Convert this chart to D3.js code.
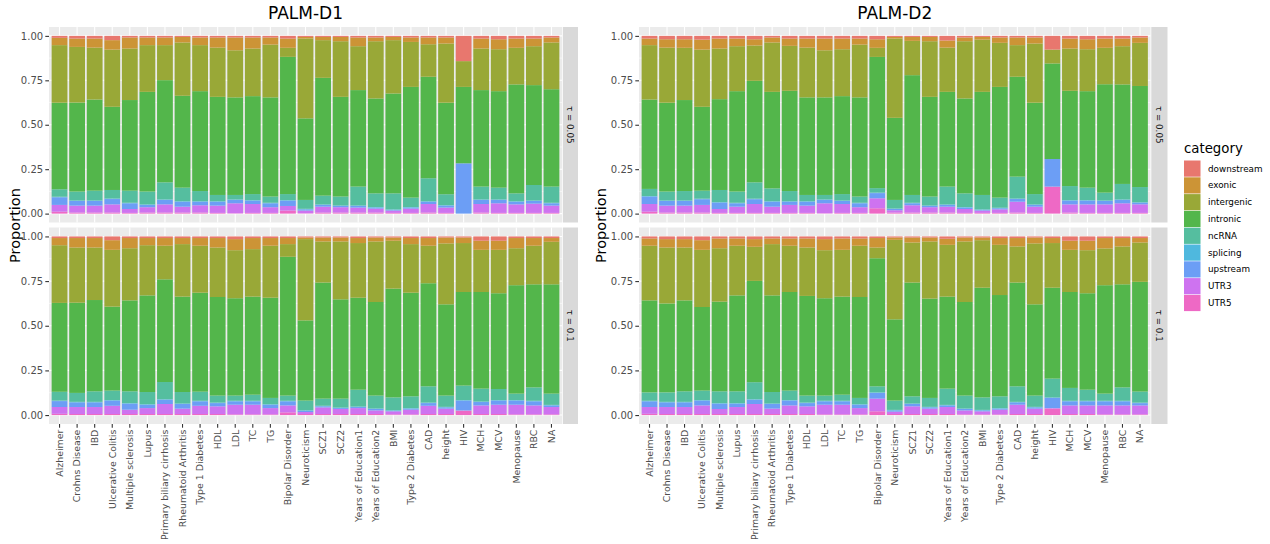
<!DOCTYPE html>
<html>
<head>
<meta charset="utf-8">
<title>PALM annotation proportions</title>
<script src="https://d3js.org/d3.v7.min.js"></script>
<style>
  body { margin: 0; background: #fff; font-family: "DejaVu Sans", sans-serif; }
  .plot-title { font-size: 17px; fill: #000; }
  .axis-title { font-size: 14.5px; fill: #000; }
  .strip-text { font-size: 8.7px; fill: #1a1a1a; }
  .legend-title { font-size: 13.3px; fill: #000; }
  .legend-label { font-size: 8.8px; fill: #000; }
</style>
</head>
<body>
<div id="chart"></div>
<script>
const traits = ["Alzheimer", "Crohns Disease", "IBD", "Ulcerative Colitis", "Multiple sclerosis", "Lupus",
  "Primary biliary cirrhosis", "Rheumatoid Arthritis", "Type 1 Diabetes", "HDL", "LDL", "TC", "TG",
  "Bipolar Disorder", "Neuroticism", "SCZ1", "SCZ2", "Years of Education1", "Years of Education2", "BMI",
  "Type 2 Diabetes", "CAD", "height", "HIV", "MCH", "MCV", "Menopause", "RBC", "NA"];
const annotations = ["downstream", "exonic", "intergenic", "intronic", "ncRNA", "splicing", "upstream", "UTR3", "UTR5"];
const annotationColors = ["#e8776e", "#cc9436", "#99a837", "#53b64b", "#55be9f", "#4fb8de", "#6c9ef5", "#ce73f0", "#ee69c5"];
const plotTitles = ["PALM-D1", "PALM-D2"];
const tauLabels = ["τ = 0.05", "τ = 0.1"];
const yTicks = [0, 0.25, 0.5, 0.75, 1];
const yMinor = [0.125, 0.375, 0.625, 0.875];

// PALM-D1, tau = 0.05
const d1t05_downstream = [.011,.015,.015,.024,.009,.009,.009,.006,.009,.009,.009,.009,.009,.015,.006,.006,.006,.009,.009,.006,.009,.009,.009,.142,.015,.019,.015,.015,.009];
const d1t05_exonic = [.041,.047,.051,.053,.062,.043,.043,.031,.043,.057,.072,.062,.040,.052,.009,.018,.024,.049,.021,.018,.025,.038,.034,0,.056,.056,.052,.043,.028];
const d1t05_intergenic = [.324,.313,.292,.322,.290,.263,.197,.300,.259,.277,.265,.268,.297,.051,.449,.212,.313,.247,.322,.300,.253,.183,.333,.145,.234,.236,.206,.219,.263];
const d1t05_intronic = [.487,.501,.513,.468,.510,.561,.575,.517,.562,.552,.549,.551,.558,.772,.459,.663,.561,.543,.534,.562,.623,.571,.515,.430,.543,.543,.613,.562,.548];
const d1t05_ncRNA = [.042,.050,.055,.048,.068,.072,.096,.076,.057,.035,.025,.034,.035,.034,.050,.049,.050,.106,.077,.090,.053,.129,.061,0,.072,.066,.044,.087,.091];
const d1t05_splicing = [.003,.003,.003,.003,.003,.003,.003,.003,.003,.003,.003,.003,.003,.003,.003,.003,.003,.003,.003,.003,.003,.003,.003,0,.003,.003,.003,.003,.003];
const d1t05_upstream = [.043,.026,.026,.030,.032,.013,.025,.028,.020,.022,.019,.019,.022,.030,.007,.010,.007,.009,.006,.004,.006,.013,.011,.283,.023,.019,.015,.015,.013];
const d1t05_UTR3 = [.038,.039,.039,.046,.022,.030,.046,.033,.041,.041,.056,.050,.032,.026,.015,.033,.030,.028,.022,.013,.024,.048,.030,0,.048,.054,.048,.052,.041];
const d1t05_UTR5 = [.011,.006,.006,.006,.004,.006,.006,.006,.006,.004,.002,.004,.004,.017,.002,.006,.006,.006,.006,.004,.004,.006,.004,0,.006,.004,.004,.004,.004];

// PALM-D1, tau = 0.1
const d1t10_downstream = [.009,.009,.009,.021,.009,.009,.009,.009,.009,.009,.015,.009,.009,.009,.006,.006,.006,.009,.006,.006,.009,.009,.006,.006,.024,.024,.009,.009,.009];
const d1t10_exonic = [.040,.053,.053,.054,.057,.040,.043,.034,.043,.053,.062,.062,.043,.034,.009,.022,.022,.028,.022,.018,.034,.043,.033,.031,.051,.051,.057,.043,.021];
const d1t10_intergenic = [.322,.309,.294,.318,.292,.281,.188,.294,.263,.277,.269,.266,.291,.071,.455,.230,.324,.306,.339,.268,.272,.210,.341,.274,.236,.243,.207,.216,.238];
const d1t10_intronic = [.496,.505,.511,.470,.509,.541,.575,.534,.554,.552,.545,.549,.561,.777,.449,.650,.556,.515,.524,.609,.580,.577,.511,.524,.541,.536,.607,.577,.612];
const d1t10_ncRNA = [.049,.050,.059,.053,.066,.068,.096,.064,.051,.039,.029,.034,.035,.029,.054,.040,.050,.094,.072,.072,.066,.091,.063,.081,.072,.062,.036,.075,.063];
const d1t10_splicing = [.003,.003,.003,.003,.003,.003,.003,.003,.003,.003,.003,.003,.003,.003,.003,.003,.003,.003,.003,.003,.003,.003,.003,.003,.003,.003,.003,.003,.003];
const d1t10_upstream = [.033,.026,.026,.029,.034,.019,.024,.026,.025,.018,.019,.019,.019,.023,.007,.006,.005,.006,.008,.003,.006,.015,.007,.055,.019,.023,.023,.023,.009];
const d1t10_UTR3 = [.038,.039,.039,.046,.024,.033,.056,.030,.046,.043,.054,.054,.035,.039,.011,.037,.028,.033,.020,.017,.026,.046,.030,.002,.048,.052,.054,.050,.041];
const d1t10_UTR5 = [.007,.006,.006,.006,.006,.006,.006,.006,.006,.006,.004,.004,.004,.015,.006,.006,.006,.006,.006,.004,.004,.006,.006,.024,.006,.006,.004,.004,.004];

// PALM-D2, tau = 0.05
const d2t05_downstream = [.015,.019,.019,.021,.015,.015,.019,.009,.015,.015,.015,.015,.015,.019,.006,.006,.006,.026,.009,.006,.009,.009,.009,.077,.015,.019,.015,.015,.009];
const d2t05_exonic = [.037,.047,.048,.056,.056,.043,.035,.028,.041,.051,.066,.060,.034,.048,.009,.022,.024,.040,.021,.015,.030,.043,.034,0,.056,.056,.052,.043,.030];
const d2t05_intergenic = [.306,.310,.294,.322,.285,.253,.199,.278,.253,.280,.265,.264,.297,.051,.446,.193,.313,.249,.322,.294,.248,.178,.333,.078,.238,.236,.205,.215,.242];
const d2t05_intronic = [.503,.500,.512,.472,.511,.565,.571,.543,.564,.549,.549,.551,.558,.736,.462,.674,.561,.533,.534,.580,.623,.562,.514,.538,.536,.543,.610,.560,.567];
const d2t05_ncRNA = [.040,.050,.053,.045,.068,.063,.092,.072,.057,.035,.025,.036,.035,.025,.048,.044,.050,.100,.077,.081,.057,.123,.058,0,.079,.070,.044,.087,.085];
const d2t05_splicing = [.003,.003,.003,.003,.003,.003,.003,.003,.003,.003,.003,.003,.003,.003,.003,.003,.003,.003,.003,.003,.003,.003,.003,0,.003,.003,.003,.003,.003];
const d2t05_upstream = [.042,.026,.026,.032,.036,.019,.027,.028,.018,.022,.019,.017,.022,.029,.007,.011,.007,.010,.008,.004,.006,.015,.010,.155,.021,.021,.019,.019,.009];
const d2t05_UTR3 = [.043,.039,.039,.043,.022,.035,.050,.035,.045,.041,.056,.050,.032,.056,.013,.041,.030,.033,.022,.013,.020,.061,.035,0,.046,.048,.048,.054,.048];
const d2t05_UTR5 = [.011,.006,.006,.006,.004,.004,.004,.004,.004,.004,.002,.004,.004,.030,.006,.006,.006,.006,.004,.004,.004,.006,.004,.152,.006,.004,.004,.004,.004];

// PALM-D2, tau = 0.1
const d2t10_downstream = [.011,.015,.015,.021,.011,.011,.015,.011,.011,.011,.015,.011,.011,.009,.006,.006,.006,.013,.006,.006,.009,.009,.006,.009,.024,.024,.009,.009,.009];
const d2t10_exonic = [.041,.047,.047,.054,.055,.041,.043,.032,.041,.051,.062,.064,.041,.053,.013,.028,.022,.034,.022,.015,.038,.047,.033,.028,.051,.053,.058,.047,.025];
const d2t10_intergenic = [.306,.313,.296,.320,.299,.278,.191,.287,.259,.271,.269,.262,.287,.060,.445,.224,.320,.290,.339,.266,.281,.202,.341,.250,.236,.241,.206,.212,.221];
const d2t10_intronic = [.515,.498,.509,.468,.502,.537,.567,.541,.552,.558,.545,.549,.565,.717,.455,.637,.556,.515,.524,.614,.567,.581,.511,.509,.537,.540,.607,.577,.616];
const d2t10_ncRNA = [.047,.053,.059,.053,.066,.066,.095,.064,.053,.039,.029,.034,.035,.034,.052,.040,.050,.091,.072,.070,.066,.087,.063,.105,.072,.062,.040,.075,.062];
const d2t10_splicing = [.003,.003,.003,.003,.003,.003,.003,.003,.003,.003,.003,.003,.003,.003,.003,.003,.003,.003,.003,.003,.003,.003,.003,.003,.003,.003,.003,.003,.003];
const d2t10_upstream = [.032,.026,.026,.027,.030,.019,.024,.026,.027,.018,.019,.019,.019,.032,.007,.013,.007,.009,.008,.005,.006,.013,.007,.057,.023,.023,.023,.023,.013];
const d2t10_UTR3 = [.038,.039,.039,.048,.028,.039,.056,.030,.048,.043,.054,.054,.035,.071,.013,.043,.030,.039,.022,.017,.026,.052,.030,.003,.048,.048,.050,.050,.050];
const d2t10_UTR5 = [.007,.006,.006,.006,.006,.006,.006,.006,.006,.006,.004,.004,.004,.021,.006,.006,.006,.006,.004,.004,.004,.006,.006,.036,.006,.006,.004,.004,.004];

const facets = [
  {plot: 0, row: 0, series: [d1t05_downstream, d1t05_exonic, d1t05_intergenic, d1t05_intronic, d1t05_ncRNA, d1t05_splicing, d1t05_upstream, d1t05_UTR3, d1t05_UTR5]},
  {plot: 0, row: 1, series: [d1t10_downstream, d1t10_exonic, d1t10_intergenic, d1t10_intronic, d1t10_ncRNA, d1t10_splicing, d1t10_upstream, d1t10_UTR3, d1t10_UTR5]},
  {plot: 1, row: 0, series: [d2t05_downstream, d2t05_exonic, d2t05_intergenic, d2t05_intronic, d2t05_ncRNA, d2t05_splicing, d2t05_upstream, d2t05_UTR3, d2t05_UTR5]},
  {plot: 1, row: 1, series: [d2t10_downstream, d2t10_exonic, d2t10_intergenic, d2t10_intronic, d2t10_ncRNA, d2t10_splicing, d2t10_upstream, d2t10_UTR3, d2t10_UTR5]}
];

const width = 1270, height = 544;
const plots = [
  {x0: 49, x1: 562, strip: [562.8, 578], axisTitleX: 15},
  {x0: 639, x1: 1150.5, strip: [1151.3, 1167.5], axisTitleX: 601}
];
const rows = [{y0: 27, y1: 222.5}, {y0: 227.5, y1: 424}];
const tickLen = 3.7;

const color = d3.scaleOrdinal().domain(annotations).range(annotationColors);
// ggplot position_fill puts the first level on top, so stack from the last one
const stack = d3.stack().keys(annotations.slice().reverse()).offset(d3.stackOffsetExpand);

const svg = d3.select("#chart")
  .append("svg")
  .attr("width", width)
  .attr("height", height);

facets.forEach(f => {
  const p = plots[f.plot], r = rows[f.row];
  const x = d3.scaleBand()
    .domain(traits)
    .range([p.x0, p.x1])
    .paddingInner(0.1)
    .paddingOuter(0.15);
  const y = d3.scaleLinear()
    .domain([-0.05, 1.05])
    .range([r.y1, r.y0]);

  const g = svg.append("g");

  // panel background and grid
  g.append("rect")
    .attr("x", p.x0).attr("y", r.y0)
    .attr("width", p.x1 - p.x0).attr("height", r.y1 - r.y0)
    .attr("fill", "#ebebeb");
  g.selectAll("line.minor").data(yMinor).join("line")
    .attr("x1", p.x0).attr("x2", p.x1)
    .attr("y1", d => y(d)).attr("y2", d => y(d))
    .attr("stroke", "#fff").attr("stroke-width", 0.55);
  g.selectAll("line.major-y").data(yTicks).join("line")
    .attr("x1", p.x0).attr("x2", p.x1)
    .attr("y1", d => y(d)).attr("y2", d => y(d))
    .attr("stroke", "#fff").attr("stroke-width", 1.1);
  g.selectAll("line.major-x").data(traits).join("line")
    .attr("x1", d => x(d) + x.bandwidth() / 2).attr("x2", d => x(d) + x.bandwidth() / 2)
    .attr("y1", r.y0).attr("y2", r.y1)
    .attr("stroke", "#fff").attr("stroke-width", 1.1);

  // stacked bars
  const table = traits.map((t, i) => {
    const o = {trait: t};
    annotations.forEach((a, j) => { o[a] = f.series[j][i]; });
    return o;
  });
  g.append("g")
    .selectAll("g")
    .data(stack(table))
    .join("g")
    .attr("fill", d => color(d.key))
    .selectAll("rect")
    .data(d => d)
    .join("rect")
    .attr("x", d => x(d.data.trait))
    .attr("width", x.bandwidth())
    .attr("y", d => y(d[1]))
    .attr("height", d => y(d[0]) - y(d[1]));

  // y axis
  const yAxis = g.append("g")
    .attr("transform", `translate(${p.x0},0)`)
    .call(d3.axisLeft(y).tickValues(yTicks).tickFormat(d3.format(".2f")).tickSize(tickLen).tickPadding(2.2));
  yAxis.select(".domain").remove();
  yAxis.selectAll("line").attr("stroke", "#333").attr("stroke-width", 1.1);
  yAxis.selectAll("text").attr("fill", "#4d4d4d").style("font-size", "10px").style("font-family", "DejaVu Sans");

  // x axis only under the bottom row
  if (f.row === 1) {
    const xAxis = g.append("g")
      .attr("transform", `translate(0,${r.y1})`)
      .call(d3.axisBottom(x).tickSize(tickLen).tickPadding(2.2));
    xAxis.select(".domain").remove();
    xAxis.selectAll("line").attr("stroke", "#333").attr("stroke-width", 1.1);
    xAxis.selectAll("text")
      .attr("fill", "#4d4d4d")
      .style("font-size", "9.4px").style("font-family", "DejaVu Sans")
      .attr("transform", "rotate(-90)")
      .attr("text-anchor", "end")
      .attr("x", -(tickLen + 2))
      .attr("y", 0)
      .attr("dy", "0.35em");
  }

  // facet strip on the right
  g.append("rect")
    .attr("x", p.strip[0]).attr("y", r.y0)
    .attr("width", p.strip[1] - p.strip[0]).attr("height", r.y1 - r.y0)
    .attr("fill", "#d9d9d9");
  const sx = (p.strip[0] + p.strip[1]) / 2, sy = (r.y0 + r.y1) / 2;
  g.append("text")
    .attr("class", "strip-text")
    .attr("transform", `translate(${sx},${sy}) rotate(90)`)
    .attr("text-anchor", "middle")
    .attr("dy", "0.35em")
    .text(tauLabels[f.row]);
});

// titles and axis titles
plots.forEach((p, i) => {
  svg.append("text")
    .attr("class", "plot-title")
    .attr("x", (p.x0 + p.x1) / 2)
    .attr("y", 19)
    .attr("text-anchor", "middle")
    .text(plotTitles[i]);
  svg.append("text")
    .attr("class", "axis-title")
    .attr("transform", `translate(${p.axisTitleX},${(rows[0].y0 + rows[1].y1) / 2}) rotate(-90)`)
    .attr("text-anchor", "middle")
    .attr("dy", "0.35em")
    .text("Proportion");
});

// legend
const legend = svg.append("g").attr("transform", "translate(1184,0)");
legend.append("text")
  .attr("class", "legend-title")
  .attr("x", 0).attr("y", 153)
  .text("category");
const keyStep = 16.8;
const items = legend.selectAll("g.item")
  .data(annotations)
  .join("g")
  .attr("transform", (d, i) => `translate(0,${160.5 + i * keyStep})`);
items.append("rect")
  .attr("width", 16.5).attr("height", 16.2)
  .attr("fill", d => color(d));
items.append("text")
  .attr("class", "legend-label")
  .attr("x", 24).attr("y", 8.1)
  .attr("dy", "0.35em")
  .text(d => d);
</script>
</body>
</html>
